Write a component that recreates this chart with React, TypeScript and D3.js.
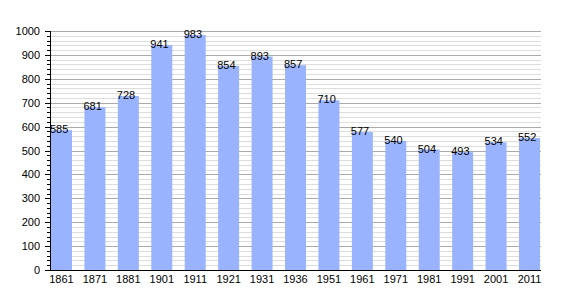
import React from "react";
import * as d3 from "d3";

const years = ["1861","1871","1881","1901","1911","1921","1931","1936","1951","1961","1971","1981","1991","2001","2011"];
const population = [585,681,728,941,983,854,893,857,710,577,540,504,493,534,552];
const yTicks = [0,100,200,300,400,500,600,700,800,900,1000];

const W = 570, H = 300;
const left = 50, right = 541, top = 31, bottom = 270;

export default function App() {
  const x = d3.scaleBand<string>().domain(years).range([left + 1, right - 1]).paddingInner(0.372).paddingOuter(0);
  const y = d3.scaleLinear().domain([0, 1000]).range([bottom, top]);
  const minor = d3.range(0, 1001, 20);
  const font = "'Liberation Sans', Arial, sans-serif";
  return (
    <svg width={W} height={H} style={{ position: "absolute", left: 0, top: 0 }}>
      <rect width={W} height={H} fill="#fff" />
      {minor.filter(v => v % 100 !== 0).map(v => (
        <line key={"m" + v} x1={left} x2={right} y1={Math.round(y(v)) + 0.5} y2={Math.round(y(v)) + 0.5} stroke="#dddddd" strokeWidth={1} />
      ))}
      {yTicks.filter(v => v > 0).map(v => (
        <line key={"g" + v} x1={left} x2={right} y1={Math.round(y(v)) + 0.5} y2={Math.round(y(v)) + 0.5} stroke="#aaaaaa" strokeWidth={1} />
      ))}
      {years.map((yr, i) => (
        <rect key={yr} x={x(yr)} y={y(population[i])} width={x.bandwidth()} height={bottom - y(population[i])} fill="#99b3ff" />
      ))}
      {years.map((yr, i) => (
        <text key={"l" + yr} x={(x(yr) as number) - 1} y={y(population[i]) + 3} fontFamily={font} fontSize={11} fill="#000">{population[i]}</text>
      ))}
      <line x1={left + 0.5} x2={left + 0.5} y1={top} y2={bottom + 1} stroke="#000" />
      <line x1={left} x2={right} y1={bottom + 0.5} y2={bottom + 0.5} stroke="#000" />
      {minor.map(v => (
        <line key={"t" + v} x1={v % 100 === 0 ? left - 5 : left - 3} x2={left} y1={Math.round(y(v)) + 0.5} y2={Math.round(y(v)) + 0.5} stroke="#000" />
      ))}
      {yTicks.map(v => (
        <text key={"y" + v} x={40} y={y(v) + 4} textAnchor="end" fontFamily={font} fontSize={11} fill="#000">{v}</text>
      ))}
      {years.map(yr => (
        <text key={"x" + yr} x={(x(yr) as number) + x.bandwidth() / 2} y={283} textAnchor="middle" fontFamily={font} fontSize={11} fill="#000">{yr}</text>
      ))}
    </svg>
  );
}
